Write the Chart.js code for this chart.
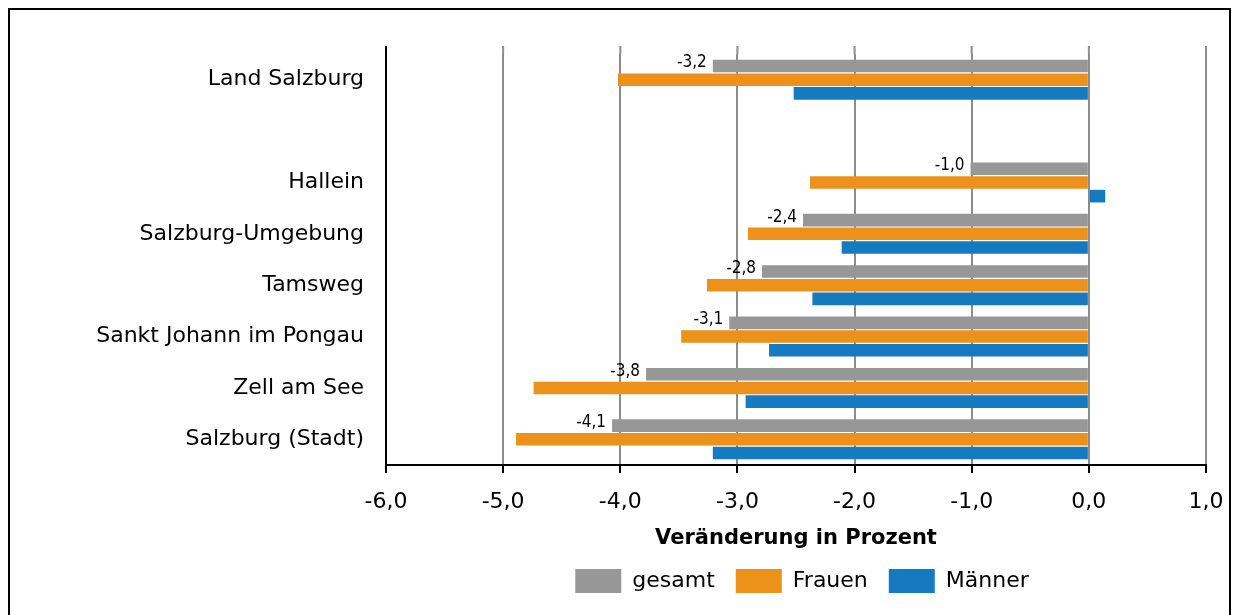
<!DOCTYPE html>
<html>
<head>
<meta charset="utf-8">
<script src="https://cdn.jsdelivr.net/npm/chart.js@4"></script>
<style>
  body { margin: 0; background: #fff; }
  #wrap { position: relative; width: 1236px; height: 615px; }
  #rahmen { position: absolute; left: 8px; top: 8px; width: 1219px; height: 640px; border: 2px solid #000; pointer-events: none; }
</style>
</head>
<body>
<div id="wrap">
  <canvas id="myCanvas"></canvas>
  <div id="rahmen"></div>
</div>
<script>
// Bezirke (leere Zeile = Abstand nach Land Salzburg)
var bezirke = ['Land Salzburg', '', 'Hallein', 'Salzburg-Umgebung', 'Tamsweg', 'Sankt Johann im Pongau', 'Zell am See', 'Salzburg (Stadt)'];
var gesamt = [-3.21, null, -1.01, -2.44, -2.79, -3.07, -3.78, -4.07];
var frauen = [-4.02, null, -2.38, -2.91, -3.26, -3.48, -4.74, -4.89];
var maenner = [-2.52, null, 0.14, -2.11, -2.36, -2.73, -2.93, -3.21];
var xTicks = [-6, -5, -4, -3, -2, -1, 0, 1];

var schrift = "'DejaVu Sans', sans-serif";

function komma(v) {
  return v.toFixed(1).replace('.', ',');
}

// Werte-Beschriftung links neben den grauen Balken
var beschriftung = {
  id: 'beschriftung',
  afterDatasetsDraw: function(chart) {
    var ctx = chart.ctx;
    var meta = chart.getDatasetMeta(0);
    ctx.save();
    ctx.font = "17px 'Liberation Sans Narrow', 'DejaVu Sans Condensed', sans-serif";
    ctx.fillStyle = '#000';
    ctx.textAlign = 'right';
    ctx.textBaseline = 'middle';
    meta.data.forEach(function(el, i) {
      if (gesamt[i] === null) return;
      ctx.fillText(komma(gesamt[i]), el.x - 6, el.y - 3);
    });
    ctx.restore();
  }
};

// Gitterlinien und y-Achse ein Stück über die Zeichenfläche hinaus
var verlaengerung = {
  id: 'verlaengerung',
  beforeDatasetsDraw: function(chart) {
    var ctx = chart.ctx;
    var area = chart.chartArea;
    var xs = chart.scales.x;
    ctx.save();
    ctx.lineWidth = 2;
    xTicks.forEach(function(v, i) {
      var px = xs.getPixelForValue(v);
      ctx.strokeStyle = i === 0 ? '#000' : '#8c8c8c';
      ctx.beginPath();
      ctx.moveTo(px, area.top - 8);
      ctx.lineTo(px, area.top);
      ctx.stroke();
    });
    ctx.restore();
  },
  afterLayout: function(chart) {
    // Legende unter der Zeichenfläche zentrieren, etwas höher
    var lg = chart.legend;
    lg.left = chart.chartArea.left + 12;
    lg.right = chart.chartArea.right;
    lg.top -= 4;
    lg.bottom -= 4;
  }
};

var myCanvas = document.querySelector('#myCanvas').getContext('2d');
var chart = new Chart(myCanvas, {
  type: 'bar',
  data: {
    labels: bezirke,
    datasets: [
      { label: 'gesamt', data: gesamt, backgroundColor: '#979797' },
      { label: 'Frauen', data: frauen, backgroundColor: '#EC921A' },
      { label: 'Männer', data: maenner, backgroundColor: '#157ABF' }
    ]
  },
  options: {
    indexAxis: 'y',
    responsive: true,
    maintainAspectRatio: false,
    animation: false,
    categoryPercentage: 0.8,
    barPercentage: 0.92,
    layout: { padding: { top: 54, right: 30, bottom: 8, left: 0 } },
    scales: {
      x: {
        min: -6,
        max: 1,
        afterBuildTicks: function(scale) {
          scale.ticks = xTicks.map(function(v) { return { value: v }; });
        },
        afterFit: function(scale) {
          scale.paddingLeft = 0;
          scale.paddingRight = 0;
        },
        grid: { color: '#8c8c8c', lineWidth: 2, tickLength: 8, tickColor: '#000', tickWidth: 2 },
        border: { color: '#000', width: 2 },
        ticks: {
          color: '#000',
          padding: 18,
          font: { family: schrift, size: 22, lineHeight: 1 },
          callback: function(v) { return komma(v); }
        },
        title: {
          display: true,
          text: 'Veränderung in Prozent',
          color: '#000',
          font: { family: schrift, size: 21, weight: 'bold', lineHeight: 1 },
          padding: { top: -3, bottom: 3 }
        }
      },
      y: {
        grid: { display: false },
        border: { color: '#000', width: 2 },
        afterFit: function(scale) { scale.width = 386; },
        ticks: {
          color: '#000',
          padding: 14,
          font: { family: schrift, size: 22 }
        }
      }
    },
    plugins: {
      legend: {
        position: 'bottom',
        labels: {
          color: '#000',
          boxWidth: 46,
          boxHeight: 24,
          padding: 21,
          font: { family: schrift, size: 22 }
        }
      },
      tooltip: { enabled: false }
    }
  },
  plugins: [beschriftung, verlaengerung]
});
</script>
</body>
</html>
